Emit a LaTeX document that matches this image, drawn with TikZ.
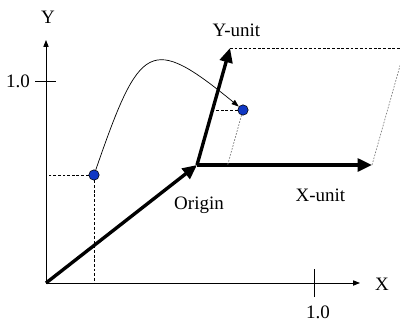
\documentclass[tikz,border=0pt]{standalone}
\usepackage{fontspec}
\setmainfont{Liberation Serif}
\usepackage{tikz}
\usetikzlibrary{arrows.meta,positioning,calc}
\definecolor{ptblue}{RGB}{16,56,196}
\tikzset{
	axis/.style={-{Triangle[length=1.7mm,width=1.3mm]}, line width=0.6pt},
	vec/.style={-{Triangle[length=3.6mm,width=3.2mm]}, line width=2.4pt},
	curvearrow/.style={-{Triangle[length=1.8mm,width=1.3mm]}, line width=0.5pt},
	guide/.style={dash pattern=on 2pt off 1.3pt, line width=0.6pt},
	proj/.style={gray, dash pattern=on 1.2pt off 1pt, line width=0.5pt},
	pt/.style={circle, draw, fill=ptblue, line width=0.4pt, inner sep=0pt, minimum size=2.6mm},
	lbl/.style={font=\fontsize{13.5}{16}\selectfont, inner sep=1pt}
}
\begin{document}
\begin{tikzpicture}
			\clip (0,0) rectangle (10,8.05);
			
			%% -- Axes
			\coordinate (o) at (1.15,0.975);
			\coordinate (ytop) at (1.15,7.05);
			\coordinate (xend) at (9.0,0.975);
			\draw[axis] (o) -- (ytop);
			\draw[axis] (o) -- (xend);
			\node[lbl] (ylab) at (1.2,7.625) {Y};
			\node[lbl] (xlab) at (9.55,0.95) {X};
			
			%% -- Ticks
			\draw[line width=0.6pt] (0.875,6.025) -- (1.4,6.025);
			\draw[line width=0.6pt] (7.85,0.625) -- (7.85,1.325);
			\node[lbl] (yone) at (0.45,6.025) {1.0};
			\node[lbl] (xone) at (7.95,0.25) {1.0};
			
			%% -- Unit frame
			\coordinate (org) at (4.925,3.925);
			\coordinate (yu) at (5.75,6.85);
			\coordinate (xu) at (9.3,3.925);
			\coordinate (far) at (10.125,6.85);
			\draw[guide] (yu) -- (far);
			\draw[proj] (xu) -- (far);
			\draw[vec] (o) -- (org);
			\draw[vec] (org) -- (yu);
			\draw[vec] (org) -- (xu);
			\node[lbl] (yulab) at (5.91,7.3) {Y-unit};
			\node[lbl] (xulab) at (8.01,3.175) {X-unit};
			\node[lbl] (orglab) at (4.975,2.925) {Origin};
			
			%% -- Point in world coordinates
			\node[pt] (p1) at (2.35,3.675) {};
			\draw[guide] (p1) -- (p1 -| o);
			\draw[guide] (p1) -- (p1 |- o);
			
			%% -- Point in unit frame
			\node[pt] (p2) at (6.075,5.3) {};
			\coordinate (p2y) at (5.31,5.3);
			\coordinate (p2x) at (5.69,3.925);
			\draw[guide] (p2) -- (p2y);
			\draw[proj] (p2) -- (p2x);
			
			%% -- Mapping
			\draw[curvearrow] (p1) .. controls (3.5,7.0) and (3.75,7.2) .. (p2);
			
		\end{tikzpicture}
\end{document}
